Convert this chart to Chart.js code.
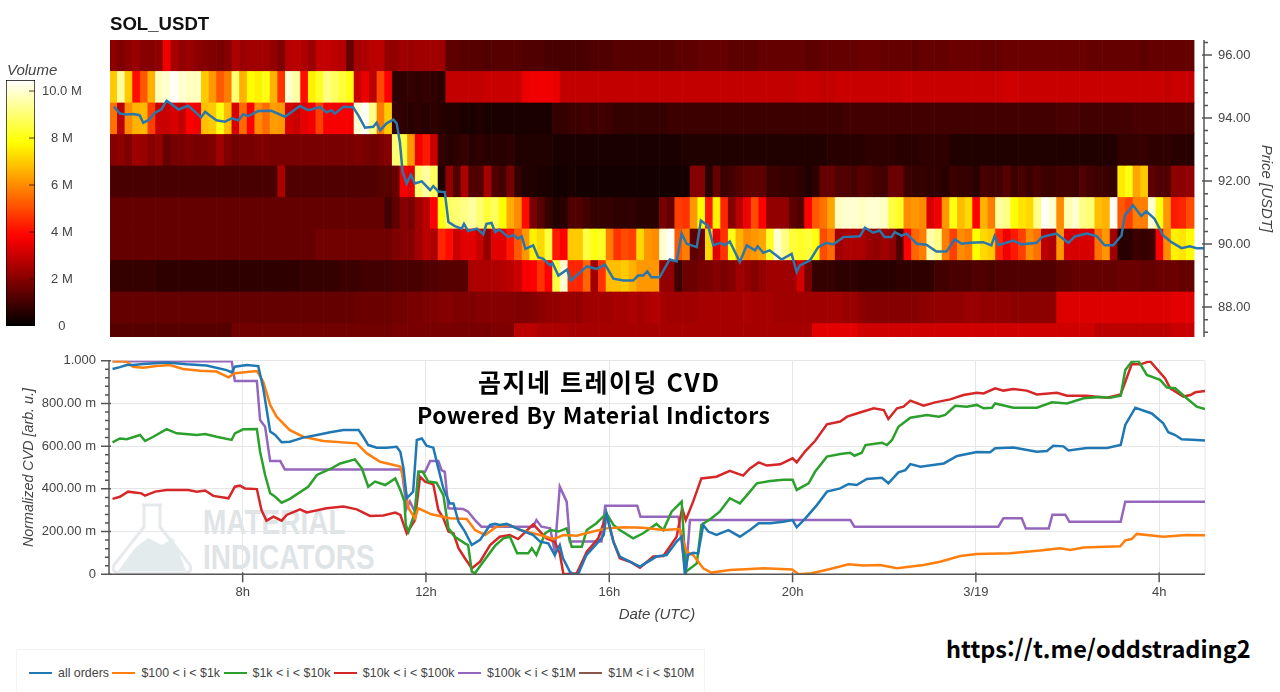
<!DOCTYPE html>
<html lang="ko">
<head>
<meta charset="utf-8">
<title>SOL_USDT CVD</title>
<script src="https://cdn.jsdelivr.net/npm/chart.js@4/dist/chart.umd.min.js"></script>
<style>
  html, body { margin: 0; background: #fff; }
  #page { position: relative; width: 1280px; height: 692px; overflow: hidden; font-family: "Liberation Sans", sans-serif; }
  canvas { position: absolute; z-index: 1; }
  .txt { position: absolute; z-index: 2; white-space: nowrap; }
  .kr { font-family: "Noto Sans CJK KR", "Noto Sans", sans-serif; font-weight: 700; color: #000; }
  .mark { position: absolute; z-index: 0; font: bold 35px "Liberation Sans", sans-serif; color: #dfe4e7; transform: scaleX(.8); transform-origin: left; white-space: nowrap; }
  #legend { position: absolute; z-index: 2; left: 16px; top: 649px; width: 689px; height: 50px; border: 1px solid #f3f3f3; box-sizing: border-box; display: flex; align-items: flex-start; padding: 16px 0 0 12px; font-size: 12.4px; color: #444; }
  #legend span.sw { display: inline-block; width: 23px; height: 0; border-top: 2.5px solid; margin: 0 6px 0 0; position: relative; top: -3px; }
  #legend div { margin-right: 3.5px; white-space: nowrap; }
</style>
</head>
<body>
<div id="page">
  <svg style="position:absolute;left:0;top:0;z-index:0" width="300" height="692">
    <path d="M118 571 L135 548 L148 538 L162 545 L173 538 L186 571 Z" fill="#e4ebed"/>
    <path d="M142 505 H162 M144 505 V527 L114 565 Q111 573 120 573 H184 Q193 573 190 565 L160 527 V505" fill="none" stroke="#e6eaec" stroke-width="3"/>
  </svg>
  <div class="mark" style="left:203px;top:502px">MATERIAL</div>
  <div class="mark" style="left:203px;top:537px">INDICATORS</div>

  <canvas id="heat-chart" width="1280" height="360" style="left:0;top:0"></canvas>
  <canvas id="colorbar" width="108" height="290" style="left:0;top:55px"></canvas>
  <canvas id="cvd-chart" width="1280" height="295" style="left:0;top:335px"></canvas>

  <div class="txt" style="left:110px;top:13px;font:bold 18.6px 'Liberation Sans';color:#111">SOL_USDT</div>
  <div class="txt" style="left:7px;top:61px;font:italic 15px 'Liberation Sans';color:#444">Volume</div>
  <div class="txt kr" style="left:478px;top:362px;font-size:25px;line-height:38px;letter-spacing:1.5px">곰지네 트레이딩 CVD</div>
  <div class="txt kr" style="left:417px;top:397px;font-size:23px;line-height:34px;letter-spacing:.4px">Powered By Material Indictors</div>
  <div class="txt kr" style="left:946px;top:630px;font-size:23.5px;line-height:36px">https://t.me/oddstrading2</div>
  <div id="legend"></div>
</div>
<script>
// volume per price level, one value per 10 min column, in units of 0.1 M
const volume96 = [21,19,21,23,20,20,21,36,25,22, 23,21,20,19,18,20,26,23,24,24, 24,22,19,27,28,26,23,29,29,28, 27,15,25,26,28,28,22,22,24,23, 24,24,24,24,14,14,13,13,13,12,
  13,13,13,13,12,12,12,11,11,11, 11,11,11,12,12,12,13,13,13,13, 13,13,13,13,14,14,14,15,15,15, 15,14,14,14,14,15,15,15,15,15, 15,14,14,15,15,15,15,15,16,16,
  16,15,15,15,15,14,15,15,15,15, 16,16,16,16,15,15,15,16,16,16, 16,16,16,16,16,16,16,16,15,15, 15,15,15,15,15,14,15,15,15,15,15,15];
const volume95 = [70,95,70,40,52,66,98,100,104,100, 98,98,70,62,52,58,90,66,78,76, 80,66,46,100,95,40,76,82,92,88, 84,80,30,35,28,50,38,7,7,8, 7,8,7,6,29,29,29,29,29,30,
  30,30,30,30,35,36,36,36,35,29, 29,29,29,29,29,29,29,29,29,29, 29,29,29,29,29,29,29,29,29,29, 29,29,29,29,29,29,29,29,29,29, 30,30,30,29,29,30,30,30,30,30,
  30,30,30,30,31,30,30,30,30,30, 30,30,30,30,30,30,30,31,31,30, 30,30,30,30,30,30,30,30,30,30, 30,30,30,30,30,30,30,30,29,30,30,30];
const volume94 = [56,28,60,66,67,48,30,30,32,29, 38,36,68,70,80,68,32,55,38,60, 55,63,62,32,30,34,36,48,37,37, 37,37,100,104,92,58,70,8,7,6, 7,6,7,6,5,5,4,4,5,4,
  4,4,4,4,4,4,4,4,8,8, 9,9,10,9,10,9,8,8,8,8, 8,8,8,9,9,9,9,9,9,9, 9,9,9,9,9,9,9,9,9,9, 9,9,9,9,9,9,10,10,10,10,
  10,10,10,10,10,10,10,10,10,10, 10,10,10,10,10,10,10,10,10,10, 10,10,10,10,11,11,11,10,10,10, 10,10,10,10,11,11,11,11,11,11,11,11];
const volume93 = [20,21,19,24,23,20,22,15,18,18, 19,18,18,19,24,19,17,18,18,19, 19,18,18,18,18,18,18,18,18,18, 18,18,19,18,17,18,20,90,85,62, 36,42,30,8,6,7,8,6,7,6,
  6,6,7,5,5,5,5,5,4,4, 4,4,4,4,4,4,4,4,4,4, 4,4,4,4,4,5,5,5,5,5, 5,5,5,5,5,5,5,5,5,5, 5,5,5,5,6,6,6,6,6,7,
  7,7,7,6,6,6,7,7,7,7, 5,5,5,5,5,5,5,5,5,5, 5,5,5,5,5,5,5,5,5,5, 5,5,8,8,8,8,7,7,7,6,6,6];
const volume92 = [11,11,11,11,11,11,11,11,11,11, 11,11,11,11,11,11,11,11,11,11, 11,11,26,12,12,12,12,12,12,12, 12,12,12,12,12,13,13,15,37,34, 90,95,88,5,22,12,26,12,12,25,
  12,10,18,8,5,5,4,4,3,3, 4,3,3,3,3,3,3,3,3,3, 3,3,3,3,3,3,20,20,6,15, 9,10,12,14,14,14,9,9,8,8, 7,5,7,15,15,12,12,11,13,12,
  10,10,16,16,9,8,8,7,7,6, 9,8,8,6,11,10,10,13,9,11, 9,11,9,9,10,10,9,12,10,9, 9,8,75,80,64,70,14,12,12,21,21,22];
const volume91 = [15,15,15,15,15,15,15,15,15,15, 15,15,15,15,15,15,15,15,15,15, 15,15,15,15,15,15,15,15,15,15, 15,15,15,15,15,15,10,14,20,18, 24,28,38,80,88,90,92,95,90,84,
  88,78,65,60,40,18,13,8,5,6, 12,12,10,8,8,8,7,7,7,6, 6,6,18,15,48,46,62,78,42,76, 44,20,28,36,50,38,22,22,22,14, 12,38,52,56,64,98,100,100,98,100,
  100,98,85,82,60,62,60,32,36,62, 80,68,72,38,66,58,95,92,78,74, 72,92,104,100,60,96,100,92,90,68, 66,104,52,48,58,58,100,80,62,42,44,50];
const volume90 = [15,15,15,15,15,15,15,15,15,15, 15,15,15,15,15,15,15,15,15,15, 15,15,15,15,15,15,15,17,17,17, 17,17,17,17,17,17,17,19,20,20, 24,28,26,44,40,30,34,34,30,22,
  34,34,42,52,62,76,72,85,42,38, 70,70,85,80,82,58,46,50,48,72, 62,60,100,104,52,58,14,16,72,34, 46,80,66,60,62,64,82,100,92,84, 82,84,80,50,55,24,26,26,26,23,
  22,24,22,12,38,54,58,96,92,58, 48,60,58,78,72,70,44,36,42,48, 60,56,28,26,62,32,32,32,32,56, 62,24,6,6,9,8,9,38,60,76,74,78];
const volume89 = [8,8,8,8,8,8,7,7,7,7, 7,7,7,7,7,7,7,7,7,7, 7,7,7,7,7,8,8,8,8,8, 9,9,9,10,10,10,10,11,11,11, 11,12,12,13,13,13,13,26,26,26,
  26,27,28,30,37,38,46,38,85,100, 44,44,54,24,46,68,68,70,66,62, 62,62,22,22,9,16,16,18,18,20, 18,20,24,22,20,22,24,24,24,24, 32,18,8,8,8,7,7,7,6,6,
  6,6,6,7,7,7,7,7,10,10, 11,11,11,12,12,11,12,12,12,12, 12,12,12,12,14,14,15,15,15,15, 15,15,16,16,16,15,15,16,16,16,15,15];
const volume88 = [15,15,15,15,15,15,15,15,15,15, 15,15,15,15,15,15,15,15,15,15, 15,15,15,15,15,15,15,15,15,15, 15,15,16,16,16,16,16,17,17,18, 18,19,19,20,20,19,19,19,20,20,
  20,20,20,19,19,20,21,22,22,23, 23,22,24,24,24,24,25,25,26,25, 26,27,25,24,24,24,24,25,25,25, 25,25,25,26,25,25,25,24,24,24, 24,24,24,24,24,24,23,23,21,20,
  20,20,20,20,20,20,21,21,22,22, 22,22,23,23,22,22,22,22,21,21, 21,21,21,21,33,33,33,33,33,33, 33,33,33,33,33,33,33,33,33,34,34,34];
const volume87 = [13,13,13,13,13,13,13,13,13,13, 13,13,13,13,13,13,17,17,17,17, 17,17,17,17,17,17,17,17,17,17, 17,17,17,17,17,17,17,18,18,18, 18,18,18,18,18,18,18,18,18,18,
  19,19,19,28,28,28,26,26,26,26, 25,25,25,25,25,25,25,25,25,25, 25,25,25,25,25,25,25,25,25,25, 25,25,25,25,25,25,25,25,25,25, 25,25,34,34,34,34,34,34,31,31,
  31,31,31,31,31,31,31,31,31,31, 31,31,31,31,31,31,31,31,31,31, 31,31,31,31,31,31,31,31,31,28, 28,28,28,28,28,28,28,28,28,30,30,30];
const heatRows = [volume96, volume95, volume94, volume93, volume92, volume91, volume90, volume89, volume88, volume87];
const heatLevels = [96, 95, 94, 93, 92, 91, 90, 89, 88, 87];

// [hour (UTC, 24 = 3/19 0h), price]
const price = [[5.19,94.36],[5.32,94.14],[5.47,94.11],[5.61,94.13],[5.75,94.09],[5.83,93.85],[5.94,93.93],[6.09,94.17],[6.23,94.28],[6.34,94.55],[6.45,94.44],[6.6,94.27],[6.81,94.39],[6.96,94.2],[7.09,94.02],[7.18,94.2],[7.29,94.07],[7.43,93.93],[7.61,93.88],[7.76,93.99],[7.91,93.93],[8.01,94.12],[8.12,94.06],[8.34,94.22],[8.63,94.23],[8.92,94.04],[9.25,94.38],[9.43,94.25],[9.69,94.35],[9.83,94.18],[9.94,94.25],[10.01,94.14],[10.2,94.36],[10.41,94.34],[10.52,94.09],[10.67,93.69],[10.85,93.72],[10.92,93.85],[11,93.61],[11.14,93.83],[11.29,93.95],[11.36,93.83],[11.43,93.24],[11.49,92.29],[11.58,91.92],[11.67,92.2],[11.76,91.92],[11.91,91.99],[12.09,91.71],[12.16,91.84],[12.27,91.67],[12.41,91.65],[12.49,90.7],[12.63,90.57],[12.78,90.49],[12.83,90.64],[12.92,90.41],[13.11,90.49],[13.25,90.31],[13.32,90.64],[13.43,90.67],[13.51,90.38],
  [13.6,90.46],[13.8,90.22],[13.91,90.29],[14.01,90.17],[14.09,90.24],[14.17,89.85],[14.34,89.96],[14.45,89.58],[14.56,89.53],[14.71,89.32],[14.76,89.4],[14.89,89],[15.08,89.19],[15.16,88.84],[15.51,89.29],[15.72,89.21],[15.91,89.35],[16.09,88.9],[16.31,88.84],[16.52,88.84],[16.63,89],[16.74,89],[16.83,89.13],[16.92,88.95],[17.1,88.95],[17.32,89.51],[17.47,89.45],[17.58,90.33],[17.69,90.01],[17.91,89.9],[18,90.75],[18.16,90.57],[18.27,89.96],[18.42,90.04],[18.53,89.96],[18.63,90.08],[18.85,89.43],[19,89.96],[19.18,89.8],[19.24,89.93],[19.36,89.72],[19.5,89.8],[19.76,89.51],[19.98,89.69],[20.09,89.11],[20.16,89.32],[20.38,89.48],[20.56,89.9],[20.74,90.04],[20.89,89.99],[21.11,90.22],[21.47,90.25],[21.58,90.52],[21.76,90.36],
  [21.9,90.43],[22.01,90.22],[22.16,90.22],[22.23,90.38],[22.38,90.27],[22.49,90.33],[22.71,90.01],[22.92,89.98],[23.14,89.76],[23.36,89.76],[23.54,90.15],[23.69,90.01],[23.87,90.04],[24.16,90.06],[24.34,89.96],[24.41,90.25],[24.49,89.96],[24.82,90.11],[25,89.99],[25.33,90.04],[25.44,90.22],[25.76,90.33],[26.02,90.04],[26.16,90.24],[26.42,90.33],[26.64,90.25],[26.81,89.96],[27,89.96],[27.18,90.27],[27.25,90.91],[27.43,91.23],[27.61,90.89],[27.72,91.04],[27.9,90.8],[28.09,90.27],[28.27,90.06],[28.49,89.87],[28.67,89.93],[28.82,89.87],[28.98,89.87]];

// [hour, normalized CVD]
const allOrders = [[5.16,.961],[5.32,.97],[5.47,.98],[5.61,.98],[5.83,.984],[6.34,.992],[6.78,.983],[7.21,.977],[7.65,.956],[7.76,.945],[7.83,.972],[8.09,.98],[8.34,.975],[8.45,.87],[8.6,.668],[8.71,.652],[8.85,.618],[9.03,.621],[9.32,.64],[9.62,.652],[9.91,.665],[10.2,.675],[10.53,.675],[10.63,.644],[10.74,.605],[10.93,.593],[11.14,.593],[11.36,.597],[11.44,.574],[11.51,.496],[11.58,.356],[11.72,.387],[11.8,.629],[11.91,.636],[12.01,.602],[12.16,.593],[12.27,.496],[12.38,.402],[12.52,.332],[12.6,.332],[12.71,.246],[12.85,.2],[13,.137],[13.18,.161],[13.4,.231],[13.51,.236],[13.61,.231],[13.76,.236],[13.98,.215],[14.34,.184],[14.49,.153],[14.67,.145],[14.81,.09],[14.92,.137],[14.99,.075],[15.14,.012],[15.21,0],[15.32,0],[15.5,.09],[15.8,.161],[15.88,.184],[15.94,.285],[16.09,.153],[16.23,.083],[16.45,.059],[16.67,.036],[17.03,.083],[17.25,.09],[17.47,.153],[17.58,.176],[17.65,0],[17.72,.09],[17.83,.101],[17.94,.098],[18.05,.231],[18.16,.2],[18.34,.184],[18.6,.207],[18.85,.176],[19.07,.207],[19.26,.239],[19.51,.239],[19.8,.246],[20,.254],[20.09,.22],[20.28,.262],[20.53,.324],[20.75,.387],[21.04,.402],[21.22,.423],[21.4,.418],[21.62,.446],[21.95,.452],[22.09,.426],[22.31,.477],[22.46,.488],[22.57,.516],[22.79,.504],[23.3,.519],[23.59,.554],[24.02,.573],[24.31,.571],[24.42,.59],[24.82,.594],[25.33,.574],[25.55,.577],[25.69,.602],[25.91,.599],[26.02,.58],[26.42,.591],[26.86,.591],[27.16,.605],[27.26,.699],[27.48,.78],[27.62,.769],[27.84,.753],[28.09,.707],[28.2,.665],[28.35,.652],[28.49,.632],[28.82,.629],[29,.626]];
const orders100To1k = [[5.16,.998],[5.32,.998],[5.47,.995],[5.61,.972],[5.83,.967],[6.12,.975],[6.41,.98],[6.7,.961],[7.07,.953],[7.43,.949],[7.69,.922],[7.83,.941],[8.31,.952],[8.45,.902],[8.6,.793],[8.74,.738],[9.03,.675],[9.32,.644],[9.76,.624],[10.49,.613],[10.71,.566],[11,.527],[11.44,.504],[11.54,.418],[11.62,.309],[11.76,.262],[11.83,.309],[12.12,.281],[12.52,.262],[12.89,.259],[13.07,.207],[13.29,.184],[13.54,.223],[13.83,.231],[14.05,.207],[14.49,.184],[14.78,.165],[15,.184],[15.29,.181],[15.58,.197],[15.94,.215],[16.31,.22],[16.74,.218],[17.18,.207],[17.54,.212],[17.69,.106],[17.83,.09],[18.05,.028],[18.23,.008],[18.63,.02],[19.07,.025],[19.37,.028],[19.99,.022],[20.13,0],[20.42,.005],[20.82,.025],[21.22,.047],[21.55,.041],[21.91,.044],[22.28,.028],[22.86,.044],[23.22,.059],[23.66,.086],[24.02,.095],[24.75,.098],[25.4,.111],[25.84,.122],[26.06,.114],[26.35,.125],[27.15,.131],[27.26,.159],[27.4,.165],[27.51,.189],[28.09,.176],[28.6,.184],[29,.183]];
const orders1kTo10k = [[5.16,.618],[5.32,.636],[5.47,.632],[5.76,.652],[5.87,.624],[6.05,.644],[6.34,.68],[6.56,.66],[7,.652],[7.18,.657],[7.43,.644],[7.76,.629],[7.83,.66],[8.01,.679],[8.31,.68],[8.38,.574],[8.49,.465],[8.6,.379],[8.71,.363],[8.85,.335],[9.03,.353],[9.43,.41],[9.62,.465],[9.91,.493],[10.13,.519],[10.45,.538],[10.6,.496],[10.74,.41],[10.89,.434],[11.11,.418],[11.33,.449],[11.44,.395],[11.53,.34],[11.56,.231],[11.62,.2],[11.76,.293],[11.84,.48],[11.93,.48],[12.05,.434],[12.23,.429],[12.38,.371],[12.49,.215],[12.63,.176],[12.85,.145],[12.92,.137],[13,.012],[13.07,.005],[13.25,.059],[13.51,.134],[13.69,.168],[13.83,.176],[13.99,.098],[14.23,.098],[14.31,.122],[14.41,.09],[14.6,.192],[14.71,.207],[14.89,.2],[15.07,.215],[15.18,.129],[15.4,.129],[15.51,.207],[15.72,.239],[15.94,.285],[16.09,.231],[16.23,.207],[16.52,.168],[16.74,.192],[17.03,.236],[17.18,.207],[17.36,.293],[17.58,.34],[17.67,.012],[17.91,.051],[18.01,.231],[18.23,.262],[18.41,.293],[18.63,.356],[18.85,.332],[19.07,.387],[19.22,.426],[19.51,.437],[19.8,.443],[20,.443],[20.09,.395],[20.35,.426],[20.49,.48],[20.75,.551],[21.04,.563],[21.26,.569],[21.35,.555],[21.51,.569],[21.59,.605],[21.95,.616],[22.06,.605],[22.17,.629],[22.31,.691],[22.57,.733],[22.93,.746],[23.19,.738],[23.33,.746],[23.55,.789],[23.8,.785],[24.02,.793],[24.17,.777],[24.35,.78],[24.42,.8],[24.82,.78],[25.33,.78],[25.66,.805],[25.99,.8],[26.35,.824],[26.71,.83],[26.93,.827],[27.16,.836],[27.26,.956],[27.4,.995],[27.55,.998],[27.73,.933],[28.02,.91],[28.17,.874],[28.35,.871],[28.6,.824],[28.82,.785],[29,.774]];
const orders10kTo100k = [[5.16,.353],[5.32,.363],[5.5,.387],[5.79,.379],[5.87,.368],[6.09,.387],[6.34,.395],[6.81,.395],[7,.387],[7.18,.392],[7.36,.367],[7.69,.356],[7.83,.41],[7.94,.415],[8.05,.402],[8.31,.399],[8.41,.301],[8.52,.251],[8.67,.27],[8.85,.251],[8.96,.278],[9.25,.304],[9.4,.29],[9.83,.309],[10.2,.317],[10.49,.304],[10.78,.273],[11.07,.275],[11.33,.289],[11.44,.278],[11.58,.192],[11.76,.254],[11.87,.457],[11.98,.434],[12.16,.421],[12.27,.301],[12.38,.262],[12.49,.2],[12.6,.192],[12.71,.122],[12.85,.075],[13,.028],[13.18,.059],[13.4,.137],[13.61,.176],[13.83,.184],[14.01,.165],[14.34,.234],[14.63,.168],[14.81,.153],[14.92,.098],[15,0],[15.29,.005],[15.51,.106],[15.76,.168],[15.94,.278],[16.09,.153],[16.23,.075],[16.45,.059],[16.67,.031],[16.96,.083],[17.18,.086],[17.47,.176],[17.59,.309],[17.67,.254],[17.83,.34],[18.01,.449],[18.34,.457],[18.63,.484],[18.92,.462],[19.07,.496],[19.26,.524],[19.44,.509],[19.73,.515],[20,.543],[20.09,.524],[20.28,.577],[20.49,.624],[20.75,.702],[21.04,.715],[21.19,.738],[21.4,.753],[21.77,.777],[21.99,.769],[22.09,.727],[22.28,.777],[22.42,.785],[22.57,.813],[22.86,.789],[23.11,.805],[23.44,.819],[23.73,.839],[24.02,.85],[24.17,.847],[24.42,.871],[24.6,.86],[24.82,.867],[25.11,.86],[25.33,.842],[25.77,.85],[25.99,.836],[26.42,.836],[26.86,.827],[27.16,.842],[27.4,.983],[27.59,.983],[27.8,.998],[28.13,.917],[28.24,.871],[28.53,.832],[28.68,.839],[28.79,.852],[29,.858]];
const orders100kTo1m = [[5.16,.998],[7.76,.998],[7.83,.905],[8.31,.905],[8.38,.722],[8.49,.691],[8.6,.53],[8.82,.53],[8.92,.491],[11.47,.491],[11.58,.309],[11.65,.34],[11.76,.293],[11.83,.48],[11.98,.48],[12.09,.53],[12.27,.53],[12.34,.488],[12.41,.48],[12.49,.309],[12.81,.306],[12.92,.293],[13.07,.254],[13.21,.223],[14.34,.223],[14.41,.254],[14.52,.223],[14.71,.215],[14.81,.106],[14.92,.41],[15.07,.34],[15.14,.153],[15.83,.153],[15.91,.321],[16.61,.321],[16.68,.27],[17.51,.27],[17.67,0],[17.76,.254],[21.26,.254],[21.35,.223],[24.49,.223],[24.6,.262],[25,.262],[25.09,.215],[25.59,.215],[25.67,.279],[25.95,.279],[26.04,.246],[27.16,.246],[27.26,.34],[29,.34]];
const orders1mTo10m = [];

const priceTicks = [87.2,87.6,88,88.4,88.8,89.2,89.6,90,90.4,90.8,91.2,91.6,92,92.4,92.8,93.2,93.6,94,94.4,94.8,95.2,95.6,96,96.4];
const timeTicks = [8, 12, 16, 20, 24, 28];
const timeLabels = ['8h', '12h', '16h', '20h', '3/19', '4h'];
const cvdMajorTicks = [0, .2, .4, .6, .8, 1];
const cvdTickLabels = ['0', '200.00 m', '400.00 m', '600.00 m', '800.00 m', '1.000'];
const volumeTicks = [0, 2, 4, 6, 8, 10];
const volumeTickLabels = ['0', '2 M', '4 M', '6 M', '8 M', '10.0 M'];
const volumeMax = 10.47;

Chart.defaults.font.family = '"Liberation Sans", sans-serif';
Chart.defaults.font.size = 13;
Chart.defaults.color = '#444';
Chart.defaults.animation = false;
Chart.defaults.plugins.legend.display = false;
Chart.defaults.plugins.tooltip.enabled = false;

const axisTitleFont = { family: '"Liberation Sans", sans-serif', size: 15, style: 'italic' };
const toPoints = s => s.map(([x, y]) => ({ x, y }));
const clamp01 = v => Math.min(1, Math.max(0, v));

// same colour ramp as the volume bar, black > red > yellow > white
function hot(m) {
  const t = m / volumeMax;
  const r = clamp01(t / .365), g = clamp01((t - .365) / .381), b = clamp01((t - .746) / .254);
  return `rgb(${Math.round(r * 255)},${Math.round(g * 255)},${Math.round(b * 255)})`;
}

// long and short tick marks, the library only has one tick length
function axisMarks(majors) {
  return {
    id: 'axisMarks',
    afterDatasetsDraw(chart) {
      const c = chart.ctx;
      c.save();
      c.strokeStyle = '#555';
      c.lineWidth = 1.5;
      for (const id in majors) {
        const s = chart.scales[id];
        const horizontal = s.isHorizontal();
        const edge = horizontal ? s.top : s.position === 'left' ? s.right : s.left;
        const dir = horizontal || s.position === 'right' ? 1 : -1;
        c.beginPath();
        if (horizontal) { c.moveTo(s.left, edge); c.lineTo(s.right, edge); }
        else { c.moveTo(edge, s.top); c.lineTo(edge, s.bottom); }
        s.ticks.forEach((t, i) => {
          const p = s.getPixelForTick(i);
          const big = majors[id](t.value);
          const a = edge - dir * (big ? 2 : 0), b = edge + dir * (big ? 8 : 4);
          if (horizontal) { c.moveTo(p, a); c.lineTo(p, b); }
          else { c.moveTo(a, p); c.lineTo(b, p); }
        });
        c.stroke();
      }
      c.restore();
    }
  };
}

const heatDatasets = heatRows.map((row, r) => ({
  type: 'bar',
  order: 2,
  data: row.map((v, i) => ({ x: 5.097 + (i + .5) / 6, y: [heatLevels[r] - .5, heatLevels[r] + .5] })),
  backgroundColor: row.map(v => hot(v / 10)),
  borderWidth: 0,
  grouped: false,
  categoryPercentage: 1,
  barPercentage: 1,
}));

new Chart(document.getElementById('heat-chart'), {
  type: 'bar',
  data: {
    datasets: [
      ...heatDatasets,
      { type: 'line', order: 1, data: toPoints(price), borderColor: '#2b76ab', borderWidth: 2.5, pointRadius: 0, tension: 0 },
    ]
  },
  options: {
    responsive: false,
    // bottom padding leaves room for the scale's own label padding
    layout: { padding: { left: 110, top: 40, bottom: 23 } },
    scales: {
      x: { type: 'linear', display: false, offset: false, min: 5.104, max: 28.98, grid: { display: false } },
      y: {
        position: 'right', min: 87.05, max: 96.476,
        afterFit: s => { s.width = 76; },
        afterBuildTicks: s => { s.ticks = priceTicks.map(value => ({ value })); },
        ticks: { padding: 14, autoSkip: false, callback: v => Number.isInteger(v / 2) ? v.toFixed(2) : '' },
        grid: { display: false, drawTicks: false },
        border: { display: false },
        title: { display: true, text: 'Price [USDT]', font: axisTitleFont, color: '#444', padding: { top: 5 } },
      }
    }
  },
  plugins: [axisMarks({ y: v => Number.isInteger(v / 2) })]
});

new Chart(document.getElementById('colorbar'), {
  type: 'bar',
  data: {
    labels: ['Volume'],
    datasets: [{
      data: [volumeMax],
      categoryPercentage: 1,
      barPercentage: 1,
      borderWidth: 1,
      borderColor: '#000',
      borderSkipped: false,
      backgroundColor: ({ chart }) => {
        const area = chart.chartArea;
        if (!area) return '#000';
        const g = chart.ctx.createLinearGradient(0, area.bottom, 0, area.top);
        for (let i = 0; i <= 40; i++) g.addColorStop(i / 40, hot(volumeMax * i / 40));
        return g;
      },
    }]
  },
  options: {
    responsive: false,
    layout: { padding: { left: 6, top: 25, bottom: 19 } },
    scales: {
      x: { display: false },
      y: {
        position: 'right', min: 0, max: volumeMax,
        afterFit: s => { s.width = 73; },
        afterBuildTicks: s => { s.ticks = volumeTicks.map(value => ({ value })); },
        ticks: { padding: 7, crossAlign: 'center', autoSkip: false, callback: v => volumeTickLabels[volumeTicks.indexOf(v)] },
        grid: { display: false, drawTicks: false },
        border: { display: false },
      }
    }
  },
  plugins: [{
    id: 'barTicks',
    afterDatasetsDraw(chart) {
      const s = chart.scales.y, c = chart.ctx, right = chart.chartArea.right;
      c.save();
      c.strokeStyle = 'rgba(60,0,0,.8)';
      c.beginPath();
      volumeTicks.slice(1).forEach(v => { const p = s.getPixelForValue(v); c.moveTo(right - 6, p); c.lineTo(right, p); });
      c.stroke();
      c.restore();
    }
  }]
});

const isCvdMajor = v => cvdMajorTicks.some(m => Math.abs(m - v) < 1e-6);
const lineStyle = { borderWidth: 2.5, pointRadius: 0, tension: 0 };

const cvdChart = new Chart(document.getElementById('cvd-chart'), {
  type: 'line',
  data: {
    datasets: [
      { label: 'all orders', data: toPoints(allOrders), borderColor: '#1f77b4', ...lineStyle },
      { label: '$100 < i < $1k', data: toPoints(orders100To1k), borderColor: '#ff7f0e', ...lineStyle },
      { label: '$1k < i < $10k', data: toPoints(orders1kTo10k), borderColor: '#2ca02c', ...lineStyle },
      { label: '$10k < i < $100k', data: toPoints(orders10kTo100k), borderColor: '#d62728', ...lineStyle },
      { label: '$100k < i < $1M', data: toPoints(orders100kTo1m), borderColor: '#9467bd', ...lineStyle },
      { label: '$1M < i < $10M', data: toPoints(orders1mTo10m), borderColor: '#8c564b', ...lineStyle },
    ]
  },
  options: {
    responsive: false,
    layout: { padding: { top: 25.7, right: 75 } },
    scales: {
      x: {
        type: 'linear', min: 5.083, max: 29,
        afterFit: s => { s.height = 55.7; },
        afterBuildTicks: s => { s.ticks = timeTicks.map(value => ({ value })); },
        ticks: { padding: 10, autoSkip: false, maxRotation: 0, callback: v => timeLabels[timeTicks.indexOf(v)] },
        grid: { color: '#e6e6e6', drawTicks: false },
        border: { display: false },
        title: { display: true, text: 'Date (UTC)', font: axisTitleFont, color: '#444', padding: { bottom: 6.6 } },
      },
      y: {
        min: 0, max: 1,
        afterFit: s => { s.width = 109; },
        afterBuildTicks: s => {
          s.ticks = [];
          for (let k = 0; k <= 25; k++) s.ticks.push({ value: k * .04 });
        },
        ticks: {
          padding: 13, autoSkip: false,
          callback: v => isCvdMajor(v) ? cvdTickLabels[cvdMajorTicks.findIndex(m => Math.abs(m - v) < 1e-6)] : '',
        },
        grid: { color: c => isCvdMajor(c.tick.value) ? '#e6e6e6' : 'transparent', drawTicks: false },
        border: { display: false },
        title: { display: true, text: 'Normalized CVD [arb. u.]', font: { ...axisTitleFont, size: 14.3 }, color: '#444', padding: { top: 20 } },
      }
    }
  },
  plugins: [
    axisMarks({ x: () => true, y: isCvdMajor }),
    {
      // faint right edge of the plot
      id: 'plotEdge',
      beforeDatasetsDraw(chart) {
        const { right, top, bottom } = chart.chartArea, c = chart.ctx;
        c.save();
        c.strokeStyle = '#e6e6e6';
        c.beginPath();
        c.moveTo(right, top);
        c.lineTo(right, bottom);
        c.stroke();
        c.restore();
      }
    }
  ]
});

// html legend, the box sits well below the chart
document.getElementById('legend').innerHTML = cvdChart.data.datasets
  .map(d => `<div><span class="sw" style="border-color:${d.borderColor}"></span>${d.label.replace(/</g, '&lt;')}</div>`)
  .join('');
</script>
</body>
</html>
